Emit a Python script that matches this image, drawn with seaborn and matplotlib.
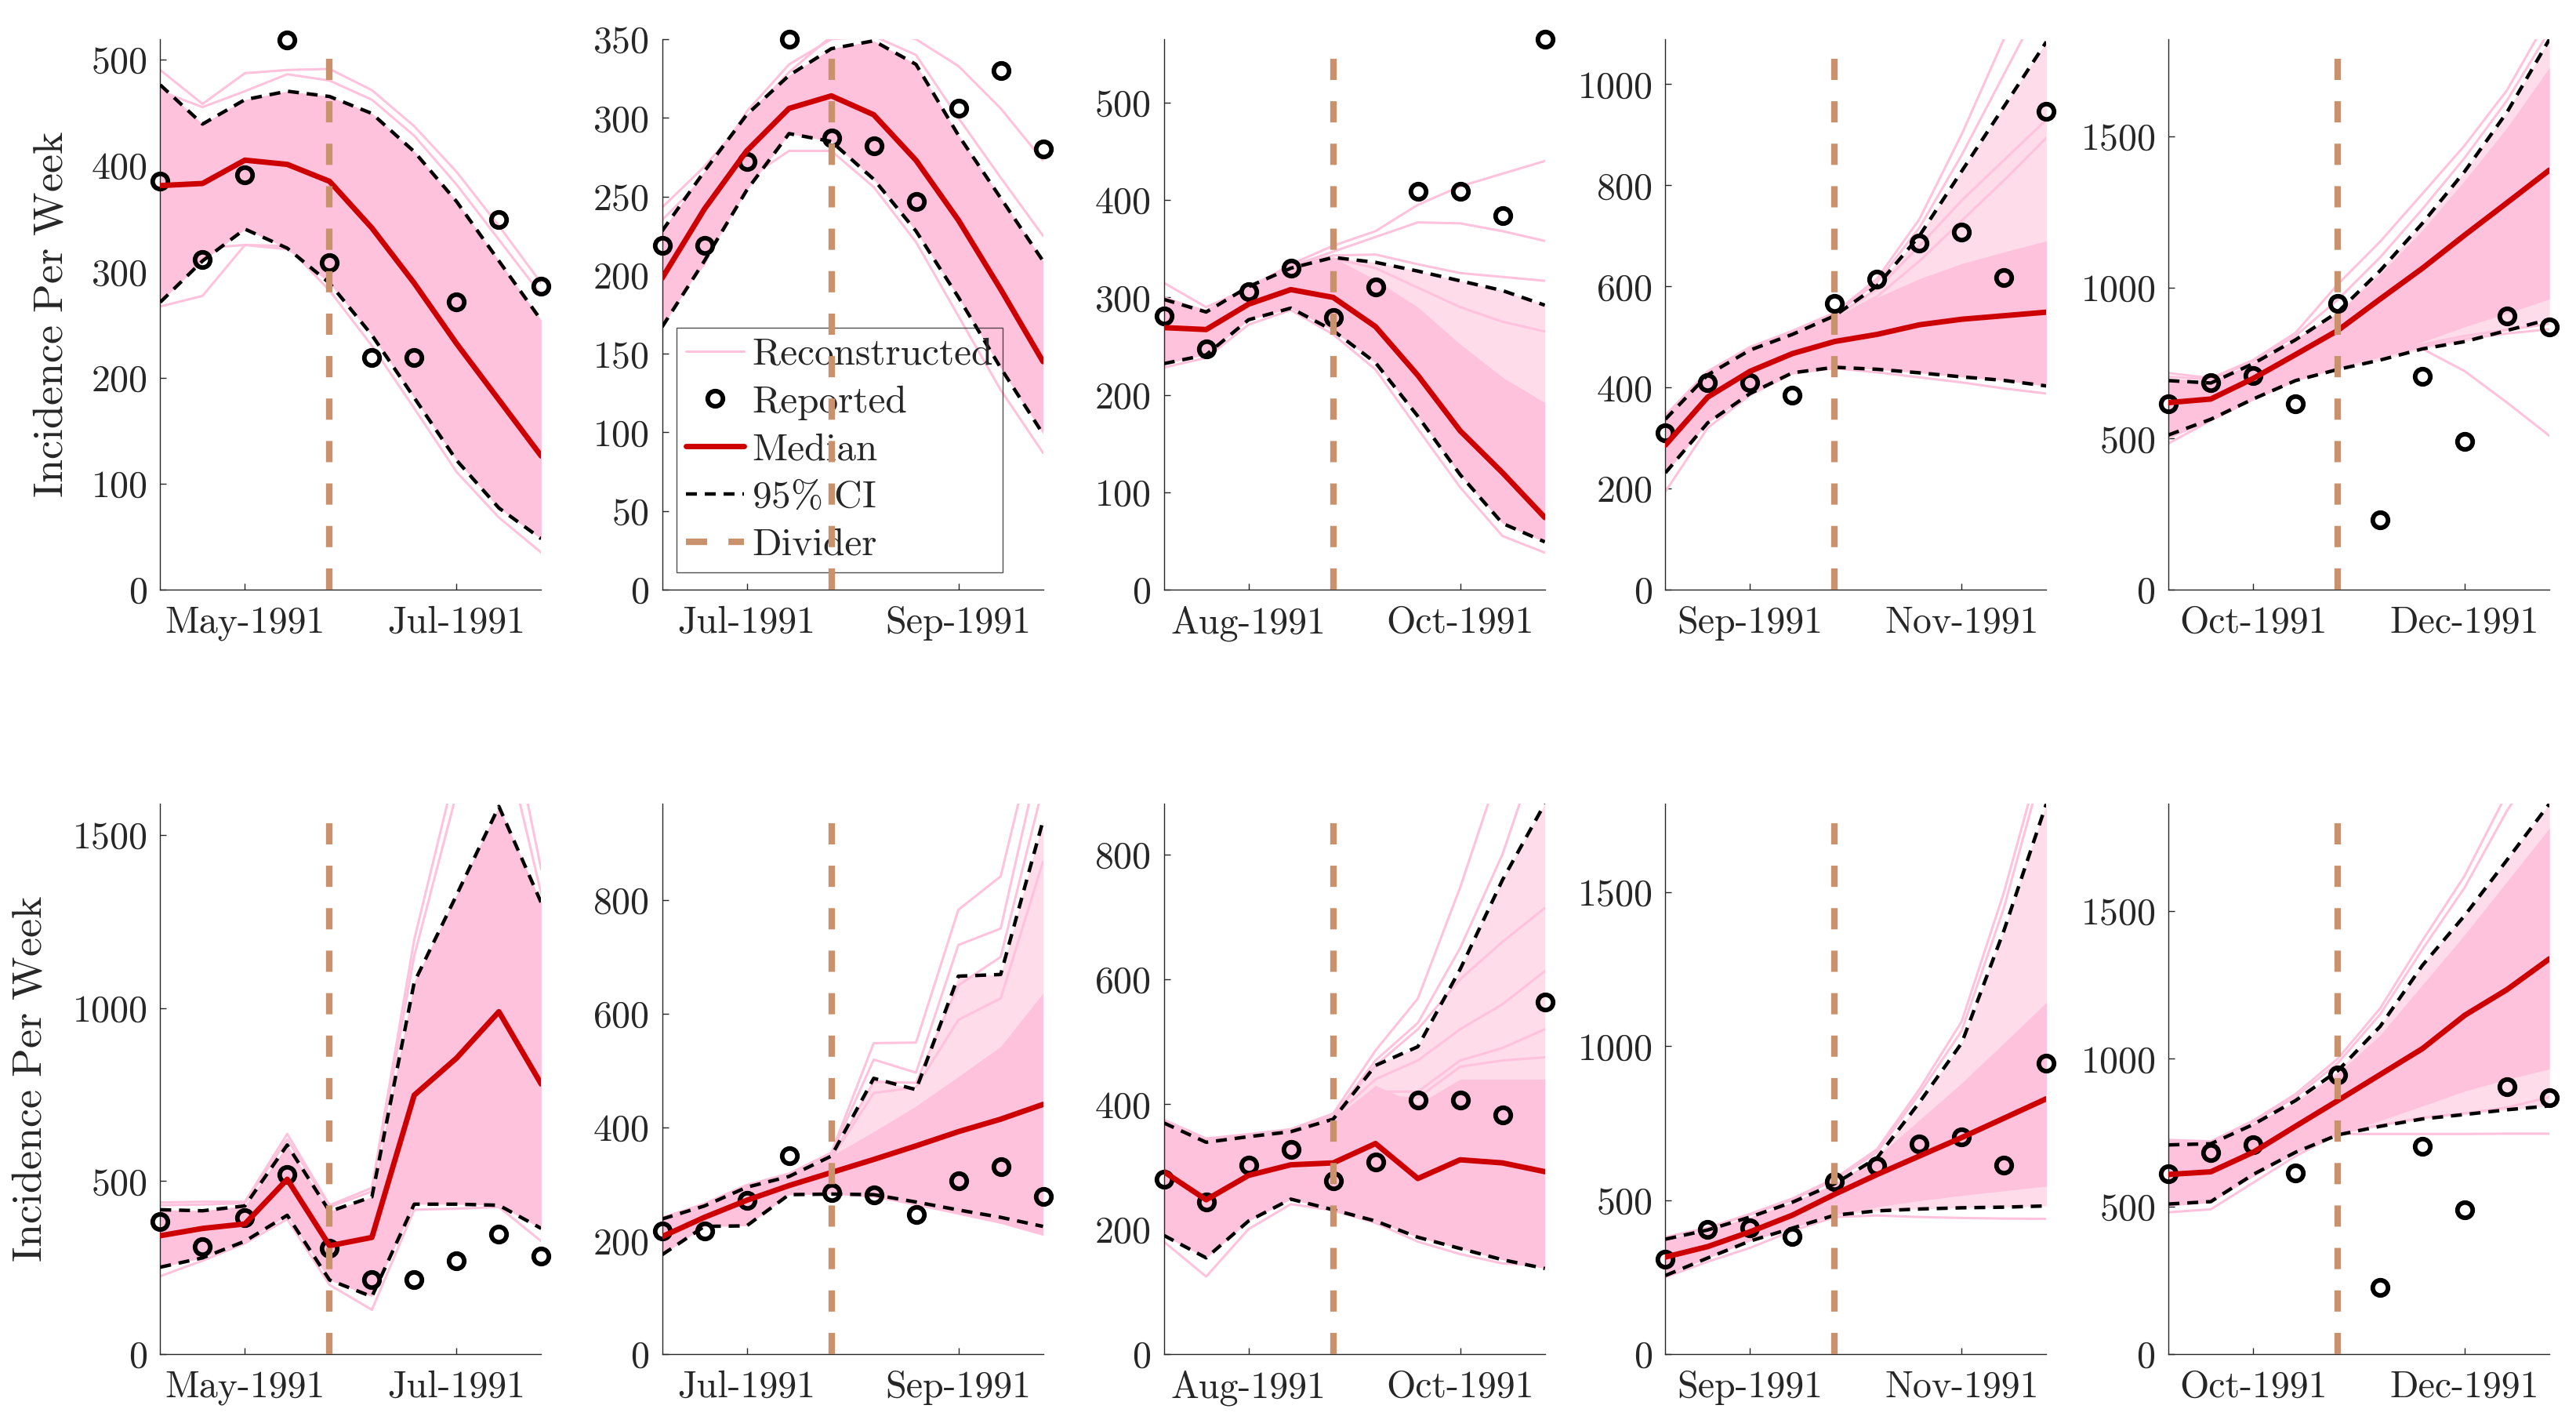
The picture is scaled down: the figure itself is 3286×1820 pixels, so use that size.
import numpy as np
import pandas as pd
import matplotlib
matplotlib.use("Agg")
import matplotlib.pyplot as plt
import seaborn as sns
from matplotlib.lines import Line2D

# ---------------- data ----------------
weeks = list(range(10))
divider_week = 4
xtick_weeks = [2, 7]
xtick_labels = [["May-1991", "Jul-1991"], ["Jul-1991", "Sep-1991"], ["Aug-1991", "Oct-1991"],
                ["Sep-1991", "Nov-1991"], ["Oct-1991", "Dec-1991"]]
y_max = [519, 350, 565, 1089, 1822, 1590, 970, 881, 1787, 1863]
y_step = [100, 50, 100, 200, 500, 500, 200, 200, 500, 500]

# top row
p1_reported = [385, 311, 391, 518, 308, 219, 219, 271, 349, 286]
p1_median = [381, 383, 405, 401, 385, 341, 289, 232, 179, 126]
p1_ci_hi = [476, 439, 462, 470, 465, 449, 413, 366, 310, 254]
p1_ci_lo = [271, 310, 340, 322, 289, 240, 181, 122, 77, 48]
p1_band_hi = [476, 439, 462, 470, 465, 449, 413, 366, 310, 254]
p1_band_lo = [271, 310, 340, 322, 289, 240, 181, 122, 77, 48]
p1_runs = [[490, 458, 487, 490, 491, 471, 437, 394, 343, 289],
           [470, 455, 470, 486, 480, 462, 428, 382, 330, 278],
           [267, 277, 325, 324, 282, 230, 171, 111, 68, 35],
           [300, 322, 325, 321, 300, 255, 200, 140, 90, 55]]

p2_reported = [219, 219, 272, 350, 287, 282, 247, 306, 330, 280]
p2_median = [198, 242, 279, 306, 314, 302, 273, 235, 191, 145]
p2_ci_hi = [228, 266, 302, 327, 344, 349, 334, 289, 249, 209]
p2_ci_lo = [167, 209, 254, 290, 285, 261, 228, 186, 141, 99]
p2_band_hi = [228, 266, 302, 327, 344, 349, 334, 289, 249, 209]
p2_band_lo = [167, 209, 254, 290, 285, 261, 228, 186, 141, 99]
p2_runs = [[243, 269, 300, 329, 352, 356, 350, 333, 306, 273],
           [235, 262, 304, 334, 350, 352, 340, 300, 262, 225],
           [176, 207, 261, 279, 279, 256, 221, 174, 127, 87]]

p3_reported = [281, 247, 306, 330, 279, 311, 409, 409, 384, 565]
p3_median = [269, 267, 293, 308, 300, 270, 220, 163, 120, 74]
p3_ci_hi = [298, 285, 311, 330, 341, 336, 327, 317, 307, 292]
p3_ci_lo = [232, 241, 277, 289, 266, 233, 178, 118, 68, 49]
p3_band_hi = [298, 285, 311, 330, 341, 318, 290, 252, 218, 192]
p3_band_lo = [232, 241, 277, 289, 266, 233, 178, 118, 68, 49]
p3_runs = [[315, 290, 309, 334, 353, 368, 395, 414, 427, 440],
           [300, 285, 310, 332, 347, 362, 377, 376, 368, 358],
           [298, 286, 311, 332, 343, 344, 334, 325, 321, 317],
           [296, 284, 309, 330, 340, 330, 310, 290, 275, 265],
           [228, 238, 272, 287, 262, 226, 165, 105, 55, 38]]

p4_reported = [311, 410, 410, 385, 566, 614, 685, 708, 618, 947]
p4_median = [286, 381, 432, 467, 491, 505, 524, 535, 542, 549]
p4_ci_hi = [337, 425, 474, 505, 542, 601, 700, 828, 956, 1084]
p4_ci_lo = [231, 330, 388, 429, 440, 436, 429, 421, 414, 403]
p4_band_hi = [337, 425, 474, 505, 540, 578, 615, 645, 668, 690]
p4_band_lo = [231, 330, 388, 429, 440, 436, 429, 421, 414, 403]
p4_runs = [[345, 432, 480, 512, 548, 615, 733, 901, 1090, 1300],
           [340, 428, 476, 508, 545, 608, 716, 860, 1020, 1180],
           [335, 424, 472, 504, 540, 595, 680, 770, 850, 930],
           [330, 420, 470, 500, 535, 580, 650, 730, 810, 894],
           [194, 320, 385, 428, 438, 430, 420, 410, 398, 388]]

p5_reported = [615, 686, 708, 615, 947, 230, 705, 490, 907, 870]
p5_median = [619, 631, 699, 778, 858, 962, 1064, 1174, 1281, 1389]
p5_ci_hi = [692, 684, 748, 827, 919, 1056, 1213, 1385, 1581, 1822]
p5_ci_lo = [512, 564, 631, 692, 729, 760, 797, 821, 858, 895]
p5_band_hi = [700, 690, 750, 830, 915, 1045, 1190, 1355, 1530, 1728]
p5_band_lo = [500, 560, 628, 690, 735, 775, 820, 870, 915, 962]
p5_runs = [[717, 700, 760, 850, 1011, 1152, 1311, 1471, 1654, 1900],
           [705, 695, 755, 840, 960, 1100, 1260, 1430, 1620, 1850],
           [600, 640, 700, 770, 830, 845, 797, 723, 619, 509],
           [484, 560, 630, 695, 740, 772, 805, 830, 848, 862],
           [505, 565, 632, 698, 745, 780, 812, 840, 860, 880]]

# bottom row
p6_reported = [383, 310, 393, 518, 305, 216, 216, 269, 347, 283]
p6_median = [342, 363, 376, 505, 313, 337, 748, 855, 989, 780]
p6_ci_hi = [417, 414, 428, 604, 412, 454, 1074, 1326, 1582, 1304]
p6_ci_lo = [251, 278, 326, 401, 214, 166, 433, 433, 430, 363]
p6_band_hi = [417, 414, 428, 604, 412, 454, 1074, 1326, 1582, 1304]
p6_band_lo = [251, 278, 326, 401, 214, 166, 433, 433, 430, 363]
p6_runs = [[438, 440, 440, 636, 430, 480, 1197, 1700, 2000, 1400],
           [430, 432, 436, 620, 425, 470, 1150, 1620, 1850, 1330],
           [225, 270, 320, 390, 200, 128, 417, 420, 425, 326]]

p7_reported = [217, 217, 271, 349, 285, 281, 246, 305, 330, 278]
p7_median = [207, 241, 271, 297, 320, 343, 367, 392, 414, 440]
p7_ci_hi = [238, 261, 294, 313, 349, 486, 466, 666, 669, 940]
p7_ci_lo = [175, 225, 226, 281, 282, 281, 268, 254, 241, 225]
p7_band_hi = [238, 261, 294, 313, 349, 392, 437, 489, 542, 636]
p7_band_lo = [175, 225, 226, 281, 282, 276, 262, 246, 230, 209]
p7_runs = [[240, 265, 298, 318, 355, 548, 549, 783, 842, 1150],
           [240, 263, 296, 316, 352, 519, 496, 721, 750, 1080],
           [236, 260, 292, 312, 345, 460, 470, 589, 627, 868],
           [236, 260, 292, 312, 345, 480, 478, 650, 700, 1000]]

p8_reported = [280, 243, 303, 328, 277, 308, 407, 407, 383, 563]
p8_median = [292, 247, 286, 303, 306, 337, 281, 311, 306, 292]
p8_ci_hi = [370, 339, 348, 356, 376, 462, 492, 616, 759, 881]
p8_ci_lo = [190, 154, 213, 248, 231, 213, 187, 169, 151, 137]
p8_band_hi = [370, 339, 348, 356, 376, 430, 400, 440, 440, 440]
p8_band_lo = [190, 154, 213, 248, 231, 213, 187, 169, 151, 137]
p8_runs = [[375, 345, 352, 360, 385, 486, 569, 747, 950, 1200],
           [372, 342, 350, 358, 380, 470, 530, 650, 800, 1000],
           [372, 342, 350, 358, 380, 462, 520, 600, 660, 714],
           [370, 340, 348, 356, 378, 440, 470, 520, 560, 613],
           [368, 338, 346, 354, 376, 420, 420, 470, 490, 520],
           [366, 338, 346, 354, 376, 410, 410, 460, 470, 475],
           [180, 124, 200, 240, 230, 210, 180, 160, 145, 142]]

p9_reported = [307, 406, 409, 381, 561, 611, 681, 706, 613, 944]
p9_median = [315, 349, 397, 451, 519, 583, 643, 703, 766, 829]
p9_ci_hi = [373, 403, 445, 493, 553, 637, 817, 1010, 1376, 1787]
p9_ci_lo = [255, 312, 367, 409, 451, 465, 471, 475, 477, 481]
p9_band_hi = [373, 403, 445, 493, 553, 640, 760, 880, 1010, 1142]
p9_band_lo = [255, 312, 367, 409, 451, 478, 498, 515, 530, 545]
p9_runs = [[380, 410, 455, 505, 570, 665, 860, 1080, 1500, 2000],
           [378, 408, 452, 500, 565, 655, 845, 1050, 1450, 1950],
           [250, 300, 345, 400, 445, 450, 445, 442, 440, 439]]

p10_reported = [610, 683, 708, 614, 945, 226, 702, 489, 905, 868]
p10_median = [608, 617, 683, 771, 858, 946, 1034, 1147, 1234, 1338]
p10_ci_hi = [708, 712, 777, 858, 959, 1109, 1316, 1485, 1673, 1863]
p10_ci_lo = [508, 516, 608, 683, 742, 771, 796, 811, 827, 840]
p10_band_hi = [720, 715, 780, 850, 950, 1080, 1250, 1420, 1600, 1780]
p10_band_lo = [500, 515, 600, 680, 745, 790, 840, 890, 930, 965]
p10_runs = [[725, 720, 790, 880, 1000, 1170, 1400, 1620, 1900, 2100],
            [718, 716, 785, 870, 985, 1150, 1370, 1580, 1840, 2050],
            [480, 490, 580, 670, 745, 745, 745, 745, 746, 746],
            [505, 515, 605, 690, 750, 775, 800, 815, 835, 870]]

panels = [
    (p1_reported, p1_median, p1_ci_lo, p1_ci_hi, p1_band_lo, p1_band_hi, p1_runs),
    (p2_reported, p2_median, p2_ci_lo, p2_ci_hi, p2_band_lo, p2_band_hi, p2_runs),
    (p3_reported, p3_median, p3_ci_lo, p3_ci_hi, p3_band_lo, p3_band_hi, p3_runs),
    (p4_reported, p4_median, p4_ci_lo, p4_ci_hi, p4_band_lo, p4_band_hi, p4_runs),
    (p5_reported, p5_median, p5_ci_lo, p5_ci_hi, p5_band_lo, p5_band_hi, p5_runs),
    (p6_reported, p6_median, p6_ci_lo, p6_ci_hi, p6_band_lo, p6_band_hi, p6_runs),
    (p7_reported, p7_median, p7_ci_lo, p7_ci_hi, p7_band_lo, p7_band_hi, p7_runs),
    (p8_reported, p8_median, p8_ci_lo, p8_ci_hi, p8_band_lo, p8_band_hi, p8_runs),
    (p9_reported, p9_median, p9_ci_lo, p9_ci_hi, p9_band_lo, p9_band_hi, p9_runs),
    (p10_reported, p10_median, p10_ci_lo, p10_ci_hi, p10_band_lo, p10_band_hi, p10_runs),
]

# ---------------- style ----------------
sns.set_theme(style="white")
plt.rcParams["font.family"] = ["cmr10", "DejaVu Serif"]
plt.rcParams["mathtext.fontset"] = "cm"
plt.rcParams["axes.formatter.use_mathtext"] = True

PINK = "#FFC2DC"
PINK_LIGHT = "#FFDCEA"
RED = "#CC0000"
DIVIDER = "#C9926C"
AXCOL = "#262626"
LW_RUN, LW_MED, LW_CI, LW_DIV = 2.2, 5.0, 3.2, 6.0
MS, MEW = 14, 4.2
CI_DASH = (0, (3.15, 2.25))
DIV_DASH = (0, (3.25, 3.25))
FS = 34.5

fig = plt.figure(figsize=(32.86, 18.20), dpi=100)
lefts = [0.0622, 0.2570, 0.4518, 0.6465, 0.8418]
bottoms = [0.5868, 0.0511]
ylabel_x = [-0.237, -0.292]
W, H = 0.1479, 0.3857

axes = []
for i, (rep, med, lo, hi, blo, bhi, runs) in enumerate(panels):
    row, col = divmod(i, 5)
    ax = fig.add_axes([lefts[col], bottoms[row], W, H])
    axes.append(ax)
    ax.fill_between(weeks, lo, hi, color=PINK_LIGHT, lw=0, zorder=1)
    ax.fill_between(weeks, blo, bhi, color=PINK, lw=0, zorder=1.1)
    for run in runs:
        sns.lineplot(x=weeks, y=run, color=PINK, lw=LW_RUN, ax=ax, zorder=1.2)
    sns.lineplot(x=weeks, y=rep, ax=ax, color="black", marker="o", linestyle="none",
                 markersize=MS, markerfacecolor="none", markeredgecolor="black",
                 markeredgewidth=MEW, zorder=3, clip_on=False)
    sns.lineplot(x=weeks, y=med, ax=ax, color=RED, lw=LW_MED, zorder=4)
    sns.lineplot(x=weeks, y=lo, ax=ax, color="black", lw=LW_CI, linestyle=CI_DASH, zorder=5)
    sns.lineplot(x=weeks, y=hi, ax=ax, color="black", lw=LW_CI, linestyle=CI_DASH, zorder=5)
    ax.axvline(divider_week, color=DIVIDER, lw=LW_DIV, linestyle=DIV_DASH, zorder=6)

    ax.set_xlim(weeks[0], weeks[-1])
    ax.set_ylim(0, y_max[i])
    ax.set_yticks(np.arange(0, y_max[i] + 1, y_step[i]))
    ax.set_xticks(xtick_weeks)
    ax.set_xticklabels(xtick_labels[col])
    ax.set_xlabel("")
    ax.set_ylabel("")
    for s in ["top", "right"]:
        ax.spines[s].set_visible(False)
    for s in ["left", "bottom"]:
        ax.spines[s].set_color(AXCOL)
        ax.spines[s].set_linewidth(1.0)
    ax.tick_params(axis="both", direction="in", length=5.5, width=1.0, color=AXCOL,
                   labelcolor=AXCOL, labelsize=FS, left=True, bottom=True)
    ax.tick_params(axis="x", pad=15)
    ax.tick_params(axis="y", pad=12)
    if col == 0:
        ax.set_ylabel(r"$\mathrm{Incidence\ Per\ Week}$", fontsize=39, color=AXCOL)
        ax.yaxis.set_label_coords(ylabel_x[row], 0.5)

handles = [
    Line2D([], [], color=PINK, lw=LW_RUN),
    Line2D([], [], color="black", marker="o", linestyle="none", markersize=MS,
           markerfacecolor="none", markeredgewidth=MEW),
    Line2D([], [], color=RED, lw=LW_MED),
    Line2D([], [], color="black", lw=LW_CI, linestyle=CI_DASH),
    Line2D([], [], color=DIVIDER, lw=LW_DIV, linestyle=DIV_DASH),
]
labels = ["Reconstructed", "Reported", "Median", r"$\mathrm{95\%\ CI}$", "Divider"]
leg = axes[1].legend(handles, labels, loc="lower left", bbox_to_anchor=(0.038, 0.031),
                     borderaxespad=0, fontsize=35.5, frameon=True, fancybox=False,
                     handlelength=1.5, handletextpad=0.2, labelspacing=0.33,
                     borderpad=0.25)
leg.get_frame().set_edgecolor(AXCOL)
leg.get_frame().set_linewidth(1.0)
leg.get_frame().set_facecolor("none")
leg.set_zorder(5.5)

fig.savefig("out.png", dpi=100)
